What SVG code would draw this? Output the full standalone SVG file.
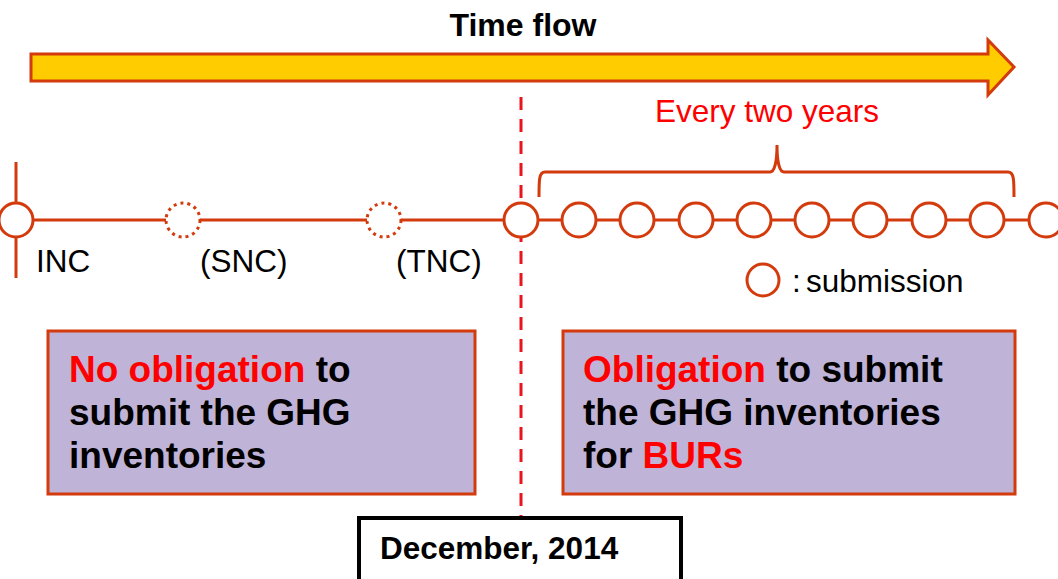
<svg xmlns="http://www.w3.org/2000/svg" width="1058" height="579" viewBox="0 0 1058 579">
  <style>
    .lbl { font-family: "Liberation Sans", Arial, sans-serif; font-size: 31.5px; fill: #000; }
    .bold { font-family: "Liberation Sans", Arial, sans-serif; font-weight: bold; fill: #000; }
    .red { fill: #ff0000; }
    .tl { stroke: #d33a0c; stroke-width: 3; fill: none; }
    .sub { stroke: #d33a0c; stroke-width: 3; fill: #fff; }
    .planned { stroke: #d33a0c; stroke-width: 3; fill: #fff; stroke-dasharray: 3 4; }
    .panel { fill: #bfb3d7; stroke: #d33a0c; stroke-width: 3; }
  </style>
  <rect width="1058" height="579" fill="#fff"/>

  <!-- Time flow arrow -->
  <g id="time-flow">
    <text class="bold" x="523" y="36" font-size="32" text-anchor="middle">Time flow</text>
    <polygon points="31,54 988,54 988,40 1014,67 988,95 988,81 31,81" fill="#ffcc00" stroke="#d33a0c" stroke-width="3"/>
  </g>

  <!-- Timeline connectors -->
  <g id="connectors">
    <line class="tl" x1="16" y1="162" x2="16" y2="278"/>
    <line class="tl" x1="16" y1="220" x2="1058" y2="220"/>
    <line x1="521" y1="97" x2="521" y2="518" stroke="#e8141e" stroke-width="3" stroke-dasharray="13 9"/>
    <!-- brace over the biennial submissions -->
    <path class="tl" d="M539,197 C539,180 539,172 545,172 L770,172 C775,172 777,160 777,145 C777,160 779,172 784,172 L1008,172 C1014,172 1014,180 1014,197"/>
  </g>

  <!-- National communications -->
  <g id="inc">
    <circle class="sub" cx="16" cy="220" r="17"/>
    <text class="lbl" x="36" y="272">INC</text>
  </g>
  <g id="snc">
    <circle class="planned" cx="183" cy="220" r="17"/>
    <text class="lbl" x="200" y="272">(SNC)</text>
  </g>
  <g id="tnc">
    <circle class="planned" cx="384" cy="220" r="17"/>
    <text class="lbl" x="396" y="272">(TNC)</text>
  </g>

  <!-- Biennial update report submissions -->
  <g id="submissions">
    <circle class="sub" cx="521" cy="220" r="17"/>
    <circle class="sub" cx="579" cy="220" r="17"/>
    <circle class="sub" cx="637" cy="220" r="17"/>
    <circle class="sub" cx="696" cy="220" r="17"/>
    <circle class="sub" cx="754" cy="220" r="17"/>
    <circle class="sub" cx="812" cy="220" r="17"/>
    <circle class="sub" cx="870" cy="220" r="17"/>
    <circle class="sub" cx="929" cy="220" r="17"/>
    <circle class="sub" cx="987" cy="220" r="17"/>
    <circle class="sub" cx="1046" cy="220" r="17"/>
  </g>

  <g id="every-two-years">
    <text class="lbl red" x="767" y="122" text-anchor="middle">Every two years</text>
  </g>

  <!-- Legend -->
  <g id="legend">
    <circle class="sub" cx="763" cy="280" r="16"/>
    <text class="lbl" x="792" y="292">:</text>
    <text class="lbl" x="806" y="292">submission</text>
  </g>

  <!-- Before / after panels -->
  <g id="no-obligation">
    <rect class="panel" x="48" y="331" width="427" height="163"/>
    <text class="bold" font-size="37" x="69" y="382"><tspan class="red">No obligation</tspan> to</text>
    <text class="bold" font-size="37" x="69" y="425">submit the GHG</text>
    <text class="bold" font-size="37" x="69" y="468">inventories</text>
  </g>
  <g id="obligation">
    <rect class="panel" x="563" y="331" width="452" height="163"/>
    <text class="bold" font-size="37" x="583" y="382"><tspan class="red">Obligation</tspan> to submit</text>
    <text class="bold" font-size="37" x="583" y="425">the GHG inventories</text>
    <text class="bold" font-size="37" x="583" y="468">for <tspan class="red">BURs</tspan></text>
  </g>

  <!-- Date marker -->
  <g id="december-2014">
    <rect x="359" y="518" width="322" height="70" fill="#fff" stroke="#000" stroke-width="4"/>
    <text class="bold" font-size="31.5" x="380" y="559">December, 2014</text>
  </g>
</svg>
